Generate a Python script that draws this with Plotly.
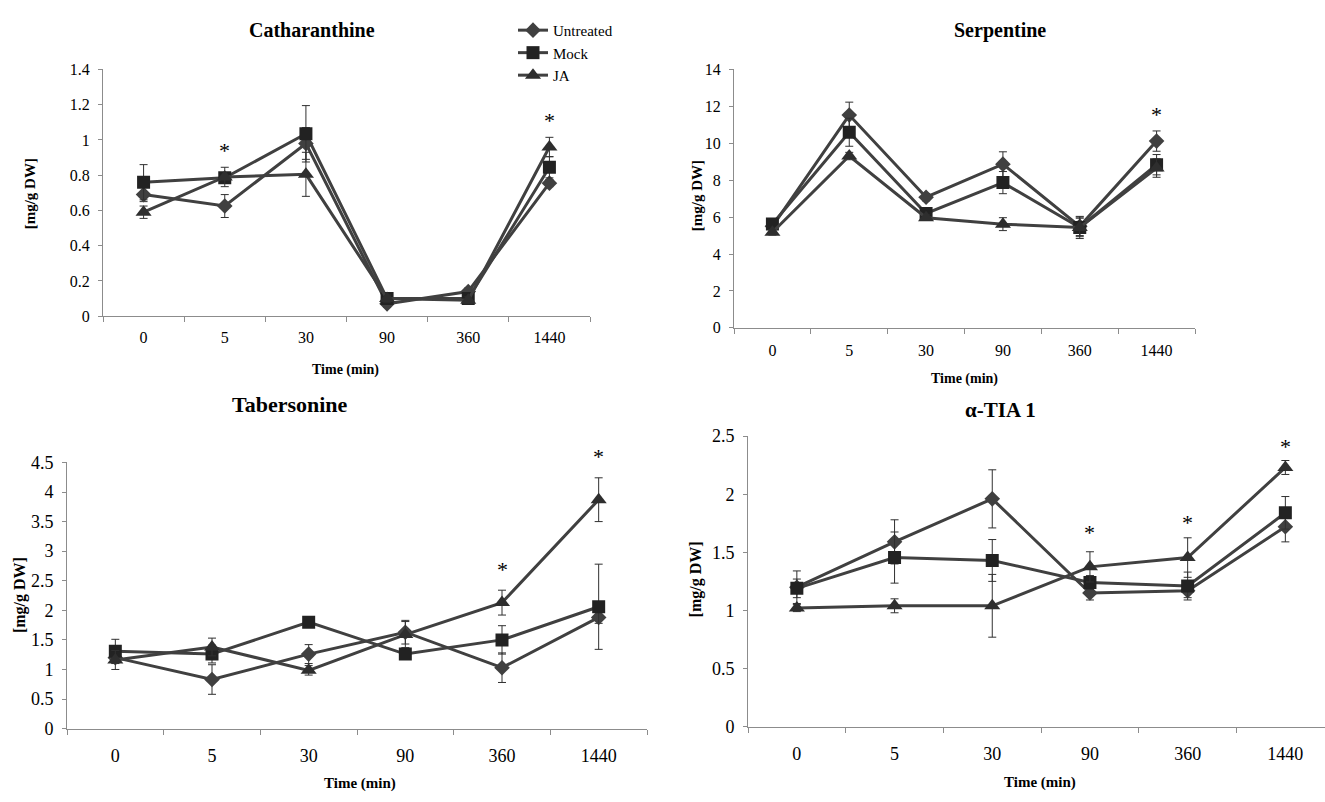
import plotly.graph_objects as go

W, H = 1325, 802

times = ["0", "5", "30", "90", "360", "1440"]
series_names = ["Untreated", "Mock", "JA"]

# Catharanthine
cath_untreated = [0.69, 0.625, 0.98, 0.07, 0.14, 0.755]
cath_untreated_err = [0.04, 0.065, 0.09, 0.02, 0.02, 0.02]
cath_mock = [0.76, 0.785, 1.035, 0.10, 0.10, 0.845]
cath_mock_err = [0.10, 0.03, 0.16, 0.02, 0.02, 0.06]
cath_ja = [0.59, 0.79, 0.805, 0.10, 0.09, 0.96]
cath_ja_err = [0.035, 0.055, 0.125, 0.02, 0.02, 0.055]
cath_star_x = ["5", "1440"]
cath_star_y = [0.86, 1.03]

# Serpentine
serp_untreated = [5.5, 11.53, 7.08, 8.87, 5.5, 10.12]
serp_untreated_err = [0.15, 0.7, 0.2, 0.67, 0.5, 0.55]
serp_mock = [5.63, 10.6, 6.2, 7.87, 5.44, 8.84]
serp_mock_err = [0.15, 0.76, 0.25, 0.6, 0.5, 0.55]
serp_ja = [5.18, 9.31, 5.97, 5.62, 5.44, 8.66]
serp_ja_err = [0.15, 0.2, 0.15, 0.35, 0.6, 0.5]
serp_star_x = ["1440"]
serp_star_y = [10.8]

# Tabersonine
tab_untreated = [1.2, 0.83, 1.26, 1.63, 1.03, 1.88]
tab_untreated_err = [0.1, 0.25, 0.16, 0.2, 0.25, 0.1]
tab_mock = [1.31, 1.26, 1.8, 1.26, 1.5, 2.06]
tab_mock_err = [0.2, 0.15, 0.05, 0.05, 0.24, 0.72]
tab_ja = [1.16, 1.38, 0.985, 1.59, 2.13, 3.87]
tab_ja_err = [0.16, 0.15, 0.08, 0.22, 0.21, 0.37]
tab_star_x = ["360", "1440"]
tab_star_y = [2.45, 4.35]

# alpha-TIA 1
tia_untreated = [1.2, 1.59, 1.96, 1.15, 1.17, 1.72]
tia_untreated_err = [0.14, 0.19, 0.25, 0.06, 0.06, 0.13]
tia_mock = [1.19, 1.455, 1.43, 1.24, 1.21, 1.84]
tia_mock_err = [0.08, 0.22, 0.18, 0.06, 0.12, 0.14]
tia_ja = [1.02, 1.04, 1.04, 1.375, 1.455, 2.23]
tia_ja_err = [0.03, 0.06, 0.27, 0.13, 0.17, 0.06]
tia_star_x = ["90", "360", "1440"]
tia_star_y = [1.55, 1.63, 2.29]

FONT = "Liberation Serif"
LINE_COLOR = "#404040"
AXIS_COLOR = "#8c8c8c"
marker_symbols = {"Untreated": "diamond", "Mock": "square", "JA": "triangle-up"}
marker_sizes = {"Untreated": 12, "Mock": 13, "JA": 14}
marker_colors = {"Untreated": "#404040", "Mock": "#222222", "JA": "#2e2e2e"}


def px_x(p):
    return p / W


def px_y(p):
    return 1 - p / H


panels = [
    dict(name="Catharanthine", data=[(cath_untreated, cath_untreated_err), (cath_mock, cath_mock_err), (cath_ja, cath_ja_err)],
         stars=(cath_star_x, cath_star_y), xdom=(103, 590), ydom=(314, 61), yrange=(0, 1.4), dtick=0.2,
         xrange=(-0.5, 5.5), title_pos=(312, 21), title_size=20, standoff=7, tick_size=16, axtitle_size=15,
         ytitle_pos=(30, 188), xtitle_pos=(346, 369)),
    dict(name="Serpentine", data=[(serp_untreated, serp_untreated_err), (serp_mock, serp_mock_err), (serp_ja, serp_ja_err)],
         stars=(serp_star_x, serp_star_y), xdom=(734, 1195), ydom=(326, 61), yrange=(0, 14), dtick=2,
         xrange=(-0.5, 5.5), title_pos=(1000, 21), title_size=20, standoff=8, tick_size=16, axtitle_size=15,
         ytitle_pos=(697, 190), xtitle_pos=(965, 378)),
    dict(name="Tabersonine", data=[(tab_untreated, tab_untreated_err), (tab_mock, tab_mock_err), (tab_ja, tab_ja_err)],
         stars=(tab_star_x, tab_star_y), xdom=(67, 647), ydom=(737, 464), yrange=(0, 4.5), dtick=0.5,
         xrange=(-0.5, 5.5), title_pos=(290, 405), title_size=22, standoff=11, tick_size=18, axtitle_size=16,
         ytitle_pos=(20, 600), xtitle_pos=(360, 793)),
    dict(name="α-TIA 1", data=[(tia_untreated, tia_untreated_err), (tia_mock, tia_mock_err), (tia_ja, tia_ja_err)],
         stars=(tia_star_x, tia_star_y), xdom=(748, 1325), ydom=(735, 437), yrange=(0, 2.5), dtick=0.5,
         xrange=(-0.5, -0.5 + (1325 - 748) / 97.7), title_pos=(1000, 410), title_size=21, standoff=11, tick_size=18,
         axtitle_size=16, ytitle_pos=(696, 584), xtitle_pos=(1040, 792)),
]

fig = go.Figure()
annotations = []
layout_axes = {}

for i, p in enumerate(panels):
    idx = "" if i == 0 else str(i + 1)
    xa, ya = "x" + idx, "y" + idx
    for (vals, errs), nm in zip(p["data"], series_names):
        fig.add_trace(go.Scatter(
            x=times, y=vals, name=nm, mode="lines+markers",
            xaxis=xa, yaxis=ya, showlegend=(i == 0), legendgroup=nm,
            line=dict(color=LINE_COLOR, width=3),
            marker=dict(symbol=marker_symbols[nm], size=marker_sizes[nm], color=marker_colors[nm]),
            error_y=dict(type="data", array=errs, visible=True, color="#303030", thickness=1, width=4),
            hoverinfo="skip",
        ))
    sx, sy = p["stars"]
    for cx, cy in zip(sx, sy):
        annotations.append(dict(x=times.index(cx), y=cy, xref=xa, yref=ya, text="*", showarrow=False,
                                xanchor="center", yanchor="bottom",
                                font=dict(family=FONT, size=22, color="black")))
    layout_axes["xaxis" + idx] = dict(
        type="category", categoryorder="array", categoryarray=times,
        domain=[px_x(p["xdom"][0]), px_x(p["xdom"][1])], range=list(p["xrange"]),
        anchor=ya, showline=True, linecolor=AXIS_COLOR, linewidth=1,
        ticks="outside", tickson="boundaries", ticklen=5, tickcolor=AXIS_COLOR,
        showgrid=False, zeroline=False, ticklabelstandoff=p["standoff"],
        tickfont=dict(family=FONT, size=p["tick_size"], color="black"),
    )
    layout_axes["yaxis" + idx] = dict(
        domain=[px_y(p["ydom"][0]), px_y(p["ydom"][1])], range=list(p["yrange"]), dtick=p["dtick"],
        anchor=xa, showline=True, linecolor=AXIS_COLOR, linewidth=1,
        ticks="outside", ticklen=4, tickcolor=AXIS_COLOR,
        showgrid=False, zeroline=False, ticklabelstandoff=5,
        tickfont=dict(family=FONT, size=p["tick_size"], color="black"),
    )
    tx, ty = p["title_pos"]
    annotations.append(dict(x=px_x(tx), y=px_y(ty), xref="paper", yref="paper", text="<b>%s</b>" % p["name"],
                            showarrow=False, xanchor="center", yanchor="middle",
                            font=dict(family=FONT, size=p["title_size"], color="black")))
    yx, yy = p["ytitle_pos"]
    annotations.append(dict(x=px_x(yx), y=px_y(yy), xref="paper", yref="paper", text="<b>[mg/g DW]</b>",
                            showarrow=False, textangle=-90, xanchor="center", yanchor="middle",
                            font=dict(family=FONT, size=p["axtitle_size"], color="black")))
    xx, xy = p["xtitle_pos"]
    annotations.append(dict(x=px_x(xx), y=px_y(xy), xref="paper", yref="paper", text="<b>Time (min)</b>",
                            showarrow=False, xanchor="center", yanchor="middle",
                            font=dict(family=FONT, size=p["axtitle_size"] - 1, color="black")))

fig.update_layout(
    width=W, height=H, margin=dict(l=0, r=0, t=0, b=0),
    paper_bgcolor="white", plot_bgcolor="white",
    showlegend=True,
    legend=dict(x=px_x(513), y=px_y(4), xanchor="left", yanchor="top",
                font=dict(family=FONT, size=15, color="black"),
                bgcolor="rgba(0,0,0,0)", itemwidth=30, tracegroupgap=0),
    annotations=annotations,
    **layout_axes,
)

fig.write_html("out.html")
